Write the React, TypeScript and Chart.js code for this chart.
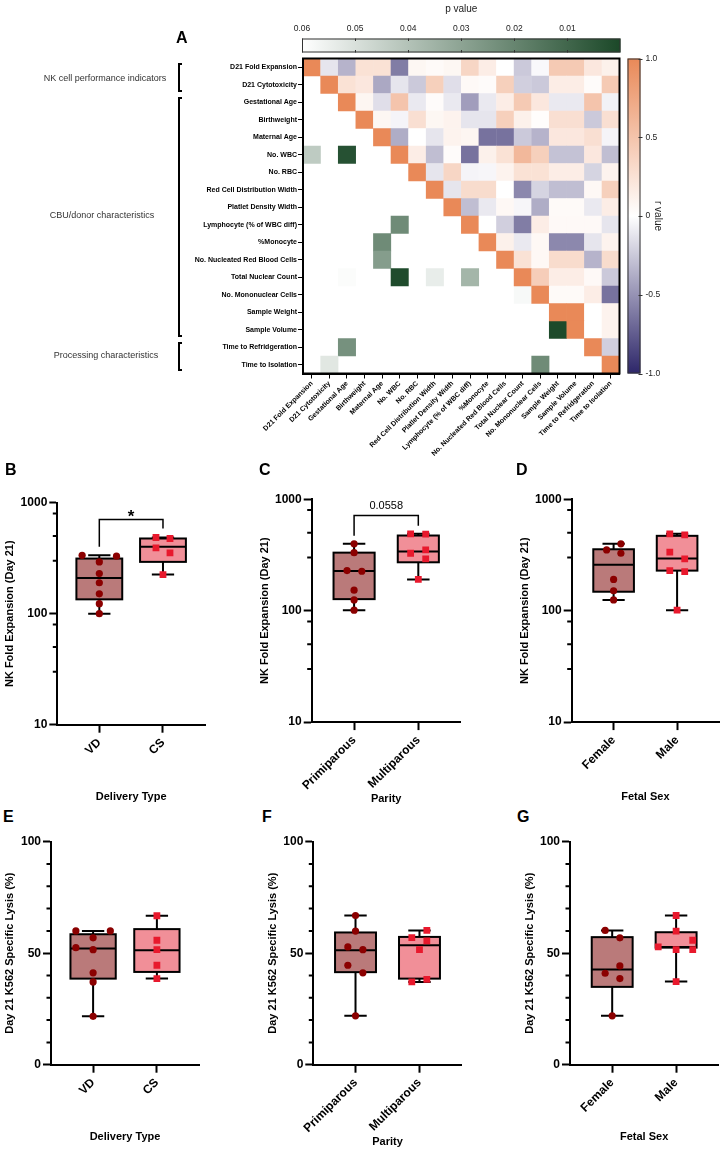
import React, { useEffect, useRef } from "react";
import { Chart, registerables } from "chart.js";
Chart.register(...registerables);

const FONT = "Arial, 'Liberation Sans', Helvetica, sans-serif";

// ---------------- Heatmap data ----------------
const heatVariables = [
  "D21 Fold Expansion", "D21 Cytotoxicity", "Gestational Age", "Birthweight", "Maternal Age",
  "No. WBC", "No. RBC", "Red Cell Distribution Width", "Platlet Density Width",
  "Lymphocyte (% of WBC diff)", "%Monocyte", "No. Nucleated Red Blood Cells", "Total Nuclear Count",
  "No. Mononuclear Cells", "Sample Weight", "Sample Volume", "Time to Refridgeration", "Time to Isolation",
];
// upper triangle r values, each row starts at the diagonal
const rValues: number[][] = [
  [1, -0.12, -0.35, 0.25, 0.25, -0.6, 0.07, 0.04, 0.07, 0.35, 0.15, 0, -0.25, -0.03, 0.45, 0.45, 0.2, 0.12],
  [1, 0.25, 0.2, -0.4, -0.12, -0.25, 0.4, -0.15, 0.05, 0.03, 0.4, -0.22, -0.25, 0.15, 0.15, 0.03, 0.45],
  [1, 0.08, -0.15, 0.5, -0.1, 0.03, -0.1, -0.45, -0.1, 0.15, 0.45, 0.2, -0.1, -0.1, 0.5, -0.06],
  [1, 0.07, -0.05, 0.27, 0.07, 0.1, -0.12, -0.12, 0.4, 0.12, 0.02, 0.27, 0.27, -0.25, 0.27],
  [1, -0.38, 0, -0.12, 0.1, 0.08, -0.65, -0.65, -0.25, -0.35, 0.2, 0.2, 0.27, -0.05],
  [1, 0.15, -0.3, 0.03, -0.65, 0.12, 0.25, 0.6, 0.4, -0.28, -0.28, 0.2, -0.3],
  [1, -0.12, 0.35, -0.05, -0.04, 0.1, 0.25, 0.25, 0.15, 0.15, -0.2, 0.1],
  [1, -0.12, 0.3, 0.3, 0, -0.55, -0.2, -0.3, -0.3, 0.06, 0.4],
  [1, -0.3, -0.1, 0.06, -0.04, -0.38, 0.04, 0.04, -0.1, 0.15],
  [1, 0, -0.22, -0.6, 0.15, 0.05, 0.05, 0.05, -0.12],
  [1, 0.12, -0.1, 0.06, -0.55, -0.55, -0.12, 0.1],
  [1, 0.25, 0.06, 0.3, 0.3, -0.35, 0.3],
  [1, 0.42, 0.15, 0.15, 0.05, -0.25],
  [1, 0.04, 0.04, 0.15, -0.65],
  [1, 1, 0, 0.1],
  [1, 0, 0.1],
  [1, -0.22],
  [1],
];
// significant p values shown in the lower triangle
const pRowIndex = [5, 5, 9, 10, 11, 12, 12, 12, 12, 13, 15, 16, 17, 17];
const pColIndex = [0, 2, 5, 4, 4, 2, 5, 7, 9, 12, 14, 2, 1, 13];
const pValues = [0.043, 0.003, 0.022, 0.022, 0.028, 0.059, 0.001, 0.054, 0.036, 0.058, 0.0005, 0.024, 0.052, 0.022];
const pBarTicks = [0.01, 0.02, 0.03, 0.04, 0.05, 0.06];
const rBarTicks = [-1, -0.5, 0, 0.5, 1];

// ---------------- Box plot data ([min, q1, median, q3, max]) ----------------
const deliveryCats = ["VD", "CS"];
const parityCats = ["Primiparous", "Multiparous"];
const sexCats = ["Female", "Male"];

const expVdBox = [100, 134.7, 210, 314, 336];
const expVdPts = [336, 330, 293, 230, 190, 151, 123, 100];
const expVdJit = [-0.27, 0.27, 0, 0, 0, 0, 0, 0];
const expCsBox = [225, 293, 400, 476, 486];
const expCsPts = [486, 476, 392, 353, 225];
const expCsJit = [-0.11, 0.11, -0.11, 0.11, 0];

const expPrimiBox = [101, 127, 227, 332, 398];
const expPrimiPts = [398, 332, 229, 226, 153, 125, 101];
const expPrimiJit = [0, 0, -0.11, 0.12, 0, 0, 0];
const expMultiBox = [191, 272, 340, 473, 490];
const expMultiPts = [490, 487, 328, 351, 292, 191];
const expMultiJit = [-0.12, 0.115, -0.12, 0.115, 0.115, 0];

const expFemaleBox = [125, 148, 259, 356, 398];
const expFemalePts = [398, 351, 328, 191, 151, 125];
const expFemaleJit = [0.115, -0.11, 0.115, 0, 0, 0];
const expMaleBox = [101, 229, 294, 470, 490];
const expMalePts = [490, 480, 335, 292, 229, 224, 101];
const expMaleJit = [-0.115, 0.12, -0.115, 0.12, -0.115, 0.12, 0];

const lysVdBox = [21.7, 38.6, 52.1, 58.5, 60];
const lysVdPts = [60, 60, 56.9, 52.5, 51.6, 41.2, 37.1, 21.7];
const lysVdJit = [-0.27, 0.27, 0, -0.27, 0, 0, 0, 0];
const lysCsBox = [38.6, 41.6, 51.3, 60.8, 66.8];
const lysCsPts = [66.8, 55.8, 51.6, 44.6, 38.6];
const lysCsJit = [0, 0, 0, 0, 0];

const lysPrimiBox = [21.9, 41.5, 51.3, 59.3, 66.9];
const lysPrimiPts = [66.9, 59.9, 52.8, 51.6, 44.6, 41.2, 21.9];
const lysPrimiJit = [0, 0, -0.12, 0.115, -0.12, 0.115, 0];
const lysMultiBox = [37.1, 38.6, 53.6, 57.3, 60.2];
const lysMultiPts = [60.2, 57.0, 55.5, 51.6, 38.3, 37.1];
const lysMultiJit = [0.115, -0.12, 0.115, 0, 0.115, -0.12];

const lysFemaleBox = [21.9, 34.9, 42.7, 57.2, 60.2];
const lysFemalePts = [60.2, 56.9, 44.3, 41.0, 38.6, 21.9];
const lysFemaleJit = [-0.11, 0.12, 0.12, -0.11, 0.12, 0];
const lysMaleBox = [37.3, 52.5, 52.8, 59.4, 66.9];
const lysMalePts = [66.9, 59.9, 55.8, 52.8, 51.6, 51.6, 37.3];
const lysMaleJit = [0, 0, 0.26, -0.28, 0, 0.26, 0];

const logMajorTicks = [10, 100, 1000];
const logMinorTicks = [30, 50, 80, 300, 500, 800];
const linMajorTicks = [0, 50, 100];
const linMinorTicks = [10, 20, 30, 40, 60, 70, 80, 90];

// ---------------- colours ----------------
const R_POS = [233, 137, 88];
const R_NEG = [45, 38, 105];
const P_END = [27, 72, 40];
function mix(c: number[], t: number) {
  const k = Math.max(0, Math.min(1, t));
  return `rgb(${Math.round(255 + (c[0] - 255) * k)},${Math.round(255 + (c[1] - 255) * k)},${Math.round(255 + (c[2] - 255) * k)})`;
}
const rColor = (v: number) => (v >= 0 ? mix(R_POS, v) : mix(R_NEG, -v));
const pColor = (p: number) => mix(P_END, 1 - p / 0.06);

const DARK_FILL = "rgb(186,122,122)";
const LIGHT_FILL = "rgb(241,143,152)";
const DARK_PT = "rgb(139,0,0)";
const LIGHT_PT = "rgb(232,25,45)";

// ---------------- generic canvas ----------------
function ChartCanvas(props: { left: number; top: number; width: number; height: number; make: () => any }) {
  const ref = useRef<HTMLCanvasElement>(null);
  useEffect(() => {
    const chart = new Chart(ref.current as HTMLCanvasElement, props.make());
    return () => chart.destroy();
  }, []);
  return (
    <canvas
      ref={ref}
      width={props.width}
      height={props.height}
      style={{ position: "absolute", left: props.left, top: props.top, width: props.width, height: props.height }}
    />
  );
}

// ---------------- heatmap ----------------
const framePlugin = {
  id: "frame",
  afterDatasetsDraw(chart: any) {
    const { ctx, chartArea: a } = chart;
    ctx.save();
    ctx.strokeStyle = "#000";
    ctx.lineWidth = 2;
    ctx.strokeRect(a.left, a.top, a.right - a.left, a.bottom - a.top);
    ctx.restore();
  },
};

function heatmapConfig() {
  const rData: any[] = [];
  rValues.forEach((row, i) => row.forEach((v, k) => rData.push({ x: i + k, y: i, v })));
  const pData = pRowIndex.map((r, j) => ({ x: pColIndex[j], y: r, v: pValues[j] }));
  const cellRadius = (c: any) => {
    const s = c.chart.scales.x;
    if (!s) return 12;
    return Math.abs(s.getPixelForValue(1) - s.getPixelForValue(0)) / Math.SQRT2 + 0.3;
  };
  const tickFont = { family: FONT, size: 7, weight: "bold" as const };
  const common = {
    type: "linear" as const,
    min: -0.5,
    max: 17.5,
    grid: { drawOnChartArea: false, drawTicks: true, tickLength: 5, color: "#000", tickWidth: 1 },
    border: { display: true, color: "#000", width: 2 },
  };
  return {
    type: "scatter",
    data: {
      datasets: [
        { data: rData, pointStyle: "rect", pointRadius: cellRadius, pointHoverRadius: cellRadius, pointBorderWidth: 0,
          pointBackgroundColor: (c: any) => rColor(c.raw ? c.raw.v : 0) },
        { data: pData, pointStyle: "rect", pointRadius: cellRadius, pointHoverRadius: cellRadius, pointBorderWidth: 0,
          pointBackgroundColor: (c: any) => pColor(c.raw ? c.raw.v : 0.06) },
      ],
    },
    options: {
      responsive: false,
      animation: false,
      events: [],
      layout: { padding: { top: 58.5, right: 105.5, left: 0, bottom: 0 } },
      plugins: { legend: { display: false }, tooltip: { enabled: false } },
      scales: {
        x: {
          ...common,
          position: "bottom",
          afterBuildTicks: (s: any) => { s.ticks = heatVariables.map((_, i) => ({ value: i })); },
          afterFit: (s: any) => { s.height = 106.5; },
          ticks: { autoSkip: false, maxRotation: 45, minRotation: 45, padding: 1, color: "#000", font: tickFont,
            callback: (v: any) => heatVariables[v] },
        },
        y: {
          ...common,
          reverse: true,
          afterBuildTicks: (s: any) => { s.ticks = heatVariables.map((_, i) => ({ value: i })); },
          afterFit: (s: any) => { s.width = 303; },
          ticks: { autoSkip: false, padding: 1, color: "#000", font: tickFont, callback: (v: any) => heatVariables[v] },
        },
      },
    },
    plugins: [framePlugin],
  };
}

// ---------------- colour bars ----------------
const gradientPlugin = {
  id: "gradbar",
  beforeDatasetsDraw(chart: any, _a: any, opts: any) {
    const { ctx, chartArea: a } = chart;
    ctx.save();
    if (opts.kind === "p") {
      const x = chart.scales.x;
      const g = ctx.createLinearGradient(x.getPixelForValue(0.06), 0, x.getPixelForValue(0), 0);
      g.addColorStop(0, pColor(0.06));
      g.addColorStop(1, pColor(0));
      ctx.fillStyle = g;
      ctx.fillRect(a.left, a.top, a.right - a.left, a.bottom - a.top);
      ctx.strokeStyle = "#333";
      ctx.lineWidth = 1;
      ctx.strokeRect(a.left + 0.5, a.top + 0.5, a.right - a.left - 1, a.bottom - a.top - 1);
      ctx.beginPath();
      pBarTicks.forEach((t) => {
        const px = Math.round(x.getPixelForValue(t)) + 0.5;
        ctx.moveTo(px, a.top); ctx.lineTo(px, a.top + 2.5);
        ctx.moveTo(px, a.bottom); ctx.lineTo(px, a.bottom - 2.5);
      });
      ctx.stroke();
    } else {
      const y = chart.scales.y;
      const g = ctx.createLinearGradient(0, y.getPixelForValue(1), 0, y.getPixelForValue(-1));
      g.addColorStop(0, rColor(1));
      g.addColorStop(0.5, rColor(0));
      g.addColorStop(1, rColor(-1));
      ctx.fillStyle = g;
      ctx.fillRect(a.left, a.top, a.right - a.left, a.bottom - a.top);
      ctx.strokeStyle = "#333";
      ctx.lineWidth = 1;
      ctx.strokeRect(a.left + 0.5, a.top + 0.5, a.right - a.left - 1, a.bottom - a.top - 1);
      ctx.beginPath();
      rBarTicks.forEach((t) => {
        const py = Math.round(y.getPixelForValue(t)) + 0.5;
        ctx.moveTo(a.right - 2, py); ctx.lineTo(a.right + 2, py);
      });
      ctx.stroke();
    }
    ctx.restore();
  },
};

function pBarConfig() {
  return {
    type: "scatter",
    data: { datasets: [] },
    options: {
      responsive: false, animation: false, events: [],
      layout: { padding: { left: 302, right: 104.5, top: 0, bottom: 3.5 } },
      plugins: { legend: { display: false }, tooltip: { enabled: false }, gradbar: { kind: "p" } },
      scales: {
        x: {
          type: "linear", position: "top", reverse: true, min: 0, max: 0.06,
          afterBuildTicks: (s: any) => { s.ticks = pBarTicks.map((v) => ({ value: v })); },
          afterFit: (s: any) => { s.height = 38.5; },
          ticks: { callback: (v: any) => Number(v).toFixed(2), padding: 5, color: "#222", maxRotation: 0,
            font: { family: FONT, size: 8.5 } },
          grid: { display: false, drawTicks: false },
          border: { display: false },
          title: { display: true, text: "p value", padding: { top: 3, bottom: 0 }, color: "#222", font: { family: FONT, size: 10 } },
        },
        y: { display: false, min: 0, max: 1 },
      },
    },
    plugins: [gradientPlugin],
  };
}

function rBarConfig() {
  return {
    type: "scatter",
    data: { datasets: [] },
    options: {
      responsive: false, animation: false, events: [],
      layout: { padding: { left: 27.5, right: 0, top: 58.5, bottom: 26.5 } },
      plugins: { legend: { display: false }, tooltip: { enabled: false }, gradbar: { kind: "r" } },
      scales: {
        x: { display: false, min: 0, max: 1 },
        y: {
          type: "linear", position: "right", min: -1, max: 1,
          afterBuildTicks: (s: any) => { s.ticks = rBarTicks.map((v) => ({ value: v })); },
          afterFit: (s: any) => { s.width = 84.5; },
          ticks: { callback: (v: any) => (v === 0 ? "0" : Number(v).toFixed(1)), padding: 5, color: "#222",
            font: { family: FONT, size: 8.5 } },
          grid: { display: false, drawTicks: false },
          border: { display: false },
          title: { display: true, text: "r value", padding: { top: 61, bottom: 0 }, color: "#222", font: { family: FONT, size: 10 } },
        },
      },
    },
    plugins: [gradientPlugin],
  };
}

// ---------------- box plots ----------------
const boxPlugin = {
  id: "boxes",
  beforeDatasetsDraw(chart: any, _a: any, opts: any) {
    const { ctx, scales: { x, y } } = chart;
    const unit = x.getPixelForValue(1) - x.getPixelForValue(0);
    const py = (v: number) => y.getPixelForValue(v);
    ctx.save();
    ctx.lineWidth = 2;
    ctx.strokeStyle = "#000";
    (opts.groups || []).forEach((g: any, i: number) => {
      const [mn, q1, md, q3, mx] = g.box;
      const cx = x.getPixelForValue(i);
      const hw = opts.boxHalf * unit;
      const cw = 0.175 * unit;
      ctx.beginPath();
      ctx.moveTo(cx, py(mx)); ctx.lineTo(cx, py(q3));
      ctx.moveTo(cx, py(q1)); ctx.lineTo(cx, py(mn));
      ctx.moveTo(cx - cw, py(mx)); ctx.lineTo(cx + cw, py(mx));
      ctx.moveTo(cx - cw, py(mn)); ctx.lineTo(cx + cw, py(mn));
      ctx.stroke();
      ctx.fillStyle = g.fill;
      ctx.fillRect(cx - hw, py(q3), 2 * hw, py(q1) - py(q3));
      ctx.strokeRect(cx - hw, py(q3), 2 * hw, py(q1) - py(q3));
      ctx.beginPath();
      ctx.moveTo(cx - hw, py(md)); ctx.lineTo(cx + hw, py(md));
      ctx.stroke();
    });
    const b = opts.bracket;
    if (b && b.text) {
      const x0 = x.getPixelForValue(0), x1 = x.getPixelForValue(1);
      ctx.lineWidth = 1.5;
      ctx.beginPath();
      ctx.moveTo(x0, py(b.leftEnd)); ctx.lineTo(x0, py(b.top)); ctx.lineTo(x1, py(b.top)); ctx.lineTo(x1, py(b.rightEnd));
      ctx.stroke();
      ctx.fillStyle = "#000";
      ctx.textAlign = "center";
      ctx.textBaseline = "alphabetic";
      ctx.font = b.font;
      ctx.fillText(b.text, (x0 + x1) / 2, py(b.top) - b.gap);
    }
    ctx.restore();
  },
  afterDraw(chart: any, _a: any, opts: any) {
    const { ctx, chartArea: a, scales: { y } } = chart;
    ctx.save();
    ctx.strokeStyle = "#000";
    ctx.lineWidth = 2;
    ctx.beginPath();
    (opts.minor || []).forEach((v: number) => {
      const p = y.getPixelForValue(v);
      ctx.moveTo(a.left - 4.5, p); ctx.lineTo(a.left, p);
    });
    ctx.stroke();
    ctx.restore();
  },
};

type Group = { box: number[]; pts: number[]; jit: number[]; fill: string; color: string; style: string };
type Geo = { L: number; T: number; W: number; cl: number; cr: number; ct: number; cb: number; yTitleX: number; xTitleY: number };

function boxConfig(cats: string[], groups: Group[], log: boolean, yTitle: string, xTitle: string, geo: Geo, boxHalf: number, bracket: any) {
  const H = geo.xTitleY + 6.6 + 4 - geo.T;
  const tickFont = { family: FONT, size: 12, weight: "bold" as const };
  const titleFont = { family: FONT, size: 11, weight: "bold" as const };
  const datasets = groups.map((g, gi) => ({
    data: g.pts.map((v, j) => ({ x: gi + g.jit[j], y: v })),
    pointStyle: g.style,
    pointRadius: g.style === "rect" ? 4.8 : 3.6,
    pointHoverRadius: g.style === "rect" ? 4.8 : 3.6,
    pointBackgroundColor: g.color,
    pointBorderWidth: 0,
  }));
  return {
    H,
    make: () => ({
      type: "scatter",
      data: { datasets },
      options: {
        responsive: false, animation: false, events: [],
        layout: { padding: { left: 0, bottom: 0, top: geo.ct - geo.T, right: geo.L + geo.W - geo.cr } },
        plugins: {
          legend: { display: false }, tooltip: { enabled: false },
          boxes: { groups: groups.map((g) => ({ box: g.box, fill: g.fill })), boxHalf, bracket: bracket || {}, minor: log ? logMinorTicks : linMinorTicks },
        },
        scales: {
          x: {
            type: "linear", min: -0.66, max: 1.66, position: "bottom",
            afterBuildTicks: (s: any) => { s.ticks = cats.map((_, i) => ({ value: i })); },
            afterFit: (s: any) => { s.height = geo.T + H - geo.cb; },
            ticks: { autoSkip: false, maxRotation: 45, minRotation: 45, padding: 3, color: "#000", font: tickFont,
              callback: (v: any) => cats[v] },
            grid: { drawOnChartArea: false, drawTicks: true, tickLength: 8, color: "#000", tickWidth: 2 },
            border: { display: true, color: "#000", width: 2 },
            title: { display: true, text: xTitle, color: "#000", font: titleFont, padding: { top: 0, bottom: 4 } },
          },
          y: {
            type: log ? "logarithmic" : "linear", min: log ? 10 : 0, max: log ? 1000 : 100,
            afterBuildTicks: (s: any) => { s.ticks = (log ? logMajorTicks : linMajorTicks).map((v) => ({ value: v })); },
            afterFit: (s: any) => { s.width = geo.cl - geo.L; },
            ticks: { padding: 2, color: "#000", font: tickFont, callback: (v: any) => String(v) },
            grid: { drawOnChartArea: false, drawTicks: true, tickLength: 8, color: "#000", tickWidth: 2 },
            border: { display: true, color: "#000", width: 2 },
            title: { display: true, text: yTitle, color: "#000", font: titleFont, padding: { top: geo.yTitleX - geo.L - 6.6, bottom: 0 } },
          },
        },
      },
      plugins: [boxPlugin],
    }),
  };
}

function BoxPanel(p: { cats: string[]; groups: Group[]; log: boolean; yTitle: string; xTitle: string; geo: Geo; boxHalf: number; bracket?: any }) {
  const cfg = boxConfig(p.cats, p.groups, p.log, p.yTitle, p.xTitle, p.geo, p.boxHalf, p.bracket);
  return <ChartCanvas left={p.geo.L} top={p.geo.T} width={p.geo.W} height={Math.round(cfg.H)} make={cfg.make} />;
}

const dark = (box: number[], pts: number[], jit: number[]): Group => ({ box, pts, jit, fill: DARK_FILL, color: DARK_PT, style: "circle" });
const light = (box: number[], pts: number[], jit: number[]): Group => ({ box, pts, jit, fill: LIGHT_FILL, color: LIGHT_PT, style: "rect" });

function Letter(p: { t: string; x: number; y: number }) {
  return (
    <div style={{ position: "absolute", left: p.x, top: p.y - 8, fontFamily: FONT, fontWeight: "bold", fontSize: 16, lineHeight: "16px", color: "#000" }}>
      {p.t}
    </div>
  );
}

function GroupLabel(p: { t: string; x: number; y: number }) {
  return (
    <div style={{ position: "absolute", left: p.x, top: p.y, transform: "translate(-50%,-50%)", whiteSpace: "nowrap",
      fontFamily: FONT, fontSize: 9, color: "#333", lineHeight: "10px" }}>
      {p.t}
    </div>
  );
}

function Bracket(p: { y0: number; y1: number }) {
  return (
    <div style={{ position: "absolute", left: 178, top: p.y0, width: 4, height: p.y1 - p.y0, boxSizing: "border-box",
      borderLeft: "2px solid #000", borderTop: "2px solid #000", borderBottom: "2px solid #000" }} />
  );
}

export default function App() {
  const expTitle = "NK Fold Expansion (Day 21)";
  const lysTitle = "Day 21 K562 Specific Lysis (%)";
  return (
    <div style={{ position: "absolute", left: 0, top: 0, width: 725, height: 1158, background: "#fff", overflow: "hidden" }}>
      <ChartCanvas left={0} top={0} width={725} height={480} make={heatmapConfig} />
      <ChartCanvas left={0} top={0} width={725} height={56} make={pBarConfig} />
      <ChartCanvas left={600} top={0} width={125} height={400} make={rBarConfig} />

      <Letter t="A" x={176} y={38} />
      <GroupLabel t="NK cell performance indicators" x={105} y={78} />
      <GroupLabel t="CBU/donor characteristics" x={102} y={215} />
      <GroupLabel t="Processing characteristics" x={106} y={355} />
      <Bracket y0={63} y1={92} />
      <Bracket y0={97} y1={337} />
      <Bracket y0={342} y1={371} />

      <Letter t="B" x={5} y={470} />
      <Letter t="C" x={259} y={470} />
      <Letter t="D" x={516} y={470} />
      <Letter t="E" x={3} y={817} />
      <Letter t="F" x={262} y={817} />
      <Letter t="G" x={517} y={817} />

      <BoxPanel cats={deliveryCats} log yTitle={expTitle} xTitle="Delivery Type" boxHalf={0.36}
        groups={[dark(expVdBox, expVdPts, expVdJit), light(expCsBox, expCsPts, expCsJit)]}
        geo={{ L: 0, T: 480, W: 250, cl: 57.3, cr: 205, ct: 502.7, cb: 724.3, yTitleX: 10, xTitleY: 797 }}
        bracket={{ top: 707, leftEnd: 400, rightEnd: 586, text: "*", font: `bold 17px ${FONT}`, gap: -3 }} />
      <BoxPanel cats={parityCats} log yTitle={expTitle} xTitle="Parity" boxHalf={0.32}
        groups={[dark(expPrimiBox, expPrimiPts, expPrimiJit), light(expMultiBox, expMultiPts, expMultiJit)]}
        geo={{ L: 255, T: 480, W: 215, cl: 311.7, cr: 460.7, ct: 499.3, cb: 721.7, yTitleX: 265.3, xTitleY: 799 }}
        bracket={{ top: 716, leftEnd: 470, rightEnd: 578, text: "0.0558", font: `11px ${FONT}`, gap: 6.5 }} />
      <BoxPanel cats={sexCats} log yTitle={expTitle} xTitle="Fetal Sex" boxHalf={0.32}
        groups={[dark(expFemaleBox, expFemalePts, expFemaleJit), light(expMaleBox, expMalePts, expMaleJit)]}
        geo={{ L: 510, T: 480, W: 215, cl: 571.7, cr: 719, ct: 499.3, cb: 721.7, yTitleX: 525, xTitleY: 797 }} />

      <BoxPanel cats={deliveryCats} log={false} yTitle={lysTitle} xTitle="Delivery Type" boxHalf={0.355}
        groups={[dark(lysVdBox, lysVdPts, lysVdJit), light(lysCsBox, lysCsPts, lysCsJit)]}
        geo={{ L: 0, T: 825, W: 250, cl: 51, cr: 199, ct: 841.7, cb: 1064.3, yTitleX: 10, xTitleY: 1137 }} />
      <BoxPanel cats={parityCats} log={false} yTitle={lysTitle} xTitle="Parity" boxHalf={0.32}
        groups={[dark(lysPrimiBox, lysPrimiPts, lysPrimiJit), light(lysMultiBox, lysMultiPts, lysMultiJit)]}
        geo={{ L: 255, T: 825, W: 215, cl: 313.3, cr: 461.7, ct: 841.7, cb: 1064.3, yTitleX: 273.3, xTitleY: 1142 }} />
      <BoxPanel cats={sexCats} log={false} yTitle={lysTitle} xTitle="Fetal Sex" boxHalf={0.32}
        groups={[dark(lysFemaleBox, lysFemalePts, lysFemaleJit), light(lysMaleBox, lysMalePts, lysMaleJit)]}
        geo={{ L: 510, T: 825, W: 215, cl: 570, cr: 718.3, ct: 841.7, cb: 1064.3, yTitleX: 530, xTitleY: 1137 }} />
    </div>
  );
}
